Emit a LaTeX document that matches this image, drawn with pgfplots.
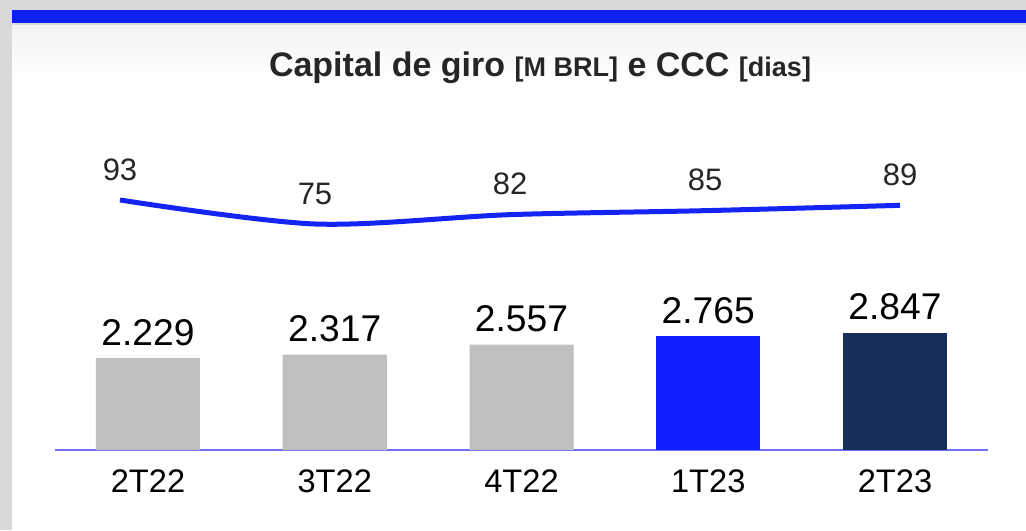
\documentclass[border=0pt]{standalone}
\usepackage{pgfplots}
\pgfplotsset{compat=1.18}
\usepackage{fontspec}
\setmainfont{Liberation Sans}
\definecolor{bggray}{HTML}{D9D9D9}
\definecolor{stripe}{HTML}{0F21F0}
\definecolor{bargray}{HTML}{BFBFBF}
\definecolor{barblue}{HTML}{1220FF}
\definecolor{barnavy}{HTML}{182E58}
\definecolor{lineblue}{HTML}{1424F5}
\definecolor{axisblue}{HTML}{6F6FFF}
\definecolor{txt}{HTML}{262626}
\definecolor{paneltop}{HTML}{F2F3F3}
\begin{document}
\begin{tikzpicture}
\useasboundingbox (0,0) rectangle (513pt,265pt);
% background frame
\fill[bggray] (0,0) rectangle (513pt,265pt);
\fill[white] (6pt,0) rectangle (513pt,252pt);
\shade[top color=paneltop, bottom color=white] (6pt,225pt) rectangle (513pt,252pt);
\fill[stripe] (6pt,253.5pt) rectangle (513pt,260pt);
% title
\node[text=txt, anchor=base] at (270pt,226.5pt)
  {\bfseries\fontsize{17}{20}\selectfont Capital de giro {\fontsize{13.5}{15}\selectfont [M BRL]} e CCC {\fontsize{13.5}{15}\selectfont [dias]}};
% bars
\begin{axis}[
  at={(27.31pt,40pt)}, anchor=south west,
  scale only axis, width=466.875pt, height=160pt,
  xmin=-0.5, xmax=4.5, ymin=0, ymax=7767,
  axis x line=bottom, axis y line=none,
  x axis line style={color=axisblue, line width=1pt, -},
  xtick={0,1,2,3,4},
  xticklabels={2T22,3T22,4T22,1T23,2T23},
  major tick length=0pt,
  xticklabel style={font=\fontsize{16.3}{18}\selectfont, text=black, inner sep=0pt, anchor=north, yshift=-9.5pt},
  ytick=\empty,
  ybar, bar width=52pt, bar shift=0pt,
  clip=false,
  nodes near coords={\pgfmathprintnumber[fixed,precision=0,1000 sep={.},assume math mode=true]{\pgfplotspointmeta}},
  every node near coord/.append style={font=\fontsize{18.6}{20}\selectfont, text=black, anchor=south, inner sep=0pt, yshift=6pt},
]
\addplot[fill=bargray, draw=none] coordinates {(0,2229) (1,2317) (2,2557)};
\addplot[fill=barblue, draw=none] coordinates {(3,2765)};
\addplot[fill=barnavy, draw=none] coordinates {(4,2847)};
\end{axis}
% line
\begin{axis}[
  at={(60pt,143pt)}, anchor=south west,
  scale only axis, width=390pt, height=26.67pt,
  xmin=0, xmax=4, ymin=60, ymax=100,
  axis lines=none, ticks=none,
  clip=false,
  nodes near coords={\pgfmathprintnumber[fixed,precision=0,assume math mode=true]{\pgfplotspointmeta}},
  every node near coord/.append style={font=\fontsize{15.5}{17}\selectfont, text=txt, anchor=south, inner sep=0pt, yshift=8.5pt},
]
\addplot[smooth, tension=0.5, line width=2.5pt, color=lineblue, mark=none] coordinates {(0,93) (1,75) (2,82) (3,85) (4,89)};
\end{axis}
\end{tikzpicture}
\end{document}
